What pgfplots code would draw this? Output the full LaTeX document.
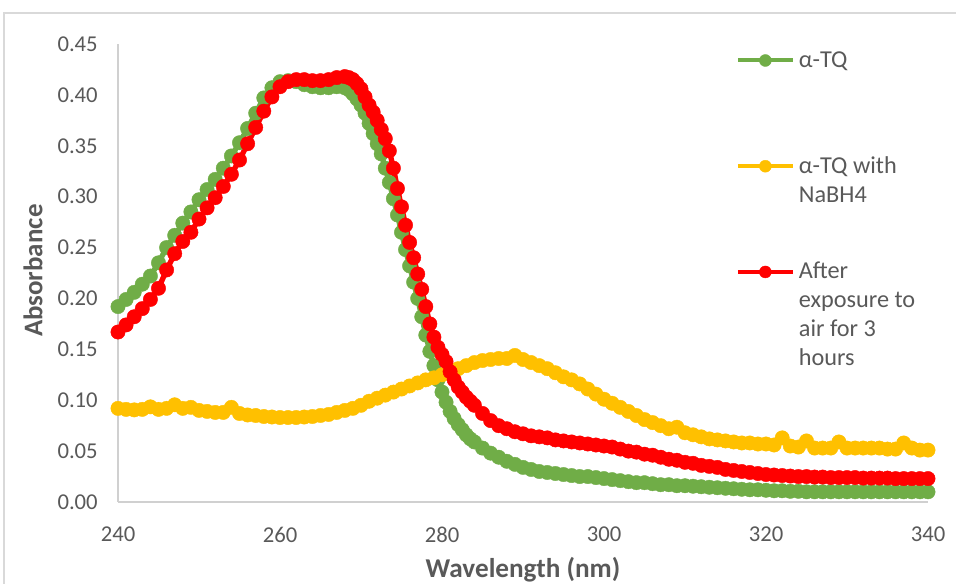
\documentclass[border=0pt]{standalone}
\usepackage{fontspec}
\setmainfont{Carlito}
\usepackage{pgfplots}
\pgfplotsset{compat=1.18}
\definecolor{cgreen}{HTML}{70AD47}
\definecolor{cgold}{HTML}{FFC000}
\definecolor{cred}{HTML}{FF0000}
\definecolor{ctext}{HTML}{595959}
\definecolor{caxis}{HTML}{D0D0D0}
\definecolor{cborder}{HTML}{D9D9D9}
\newcommand{\legent}[1]{\rule{0pt}{77.8pt}\raisebox{33pt}{\smash{\parbox[t]{115pt}{\fontsize{18.2}{21.75}\selectfont #1}}}}

\begin{document}
\begin{tikzpicture}
\path[use as bounding box] (-88.5pt,-61.5pt) rectangle (628.5pt,376.5pt);
\draw[cborder, line width=0.8pt] (-85.5pt,-80pt) -- (-85.5pt,366.75pt) -- (640pt,366.75pt);
\begin{axis}[
  name=ax,
  scale only axis,
  width=607.5pt, height=343.5pt,
  xmin=240, xmax=340, ymin=0, ymax=0.45,
  xtick={240,260,...,340},
  ytick={0,0.05,0.1,0.15,0.2,0.25,0.3,0.35,0.4,0.45},
  axis lines=left,
  x axis line style={-, draw=caxis, line width=1.4pt},
  y axis line style={-, draw=caxis, line width=1.1pt},
  major tick length=0pt,
  /pgf/number format/assume math mode=true,
  ticklabel style={font=\fontsize{17}{20}\selectfont, text=ctext},
  yticklabel={\pgfmathprintnumber[fixed,fixed zerofill,precision=2,assume math mode=true]{\tick}},
  xticklabel={\pgfmathprintnumber[assume math mode=true]{\tick}},
  yticklabel style={inner sep=0pt, xshift=-15pt},
  xticklabel style={inner sep=0pt, yshift=-18.75pt},
  xlabel={Wavelength (nm)},
  ylabel={Absorbance},
  xlabel style={at={(axis description cs:0.5,-0.148)}, anchor=center, font=\bfseries\fontsize{20.4}{23}\selectfont, text=ctext},
  ylabel style={at={(axis description cs:-0.105,0.505)}, anchor=center, font=\bfseries\fontsize{20.2}{23}\selectfont, text=ctext},
  legend cell align=left,
  legend style={at={(axis description cs:0.7625,1.08)}, anchor=north west, draw=none, fill=none, inner sep=0pt, row sep=0pt,
    /tikz/column sep=3pt, nodes={inner sep=0pt, text=ctext}},
  legend image code/.code={\draw[mark repeat=2,mark phase=2,#1, line width=3pt, mark size=4.5pt] plot coordinates {(0pt,0pt) (20.6pt,0pt) (41.25pt,0pt)};},
  every axis plot/.append style={line width=4pt, mark=*, mark size=5.4pt},
  clip=false,
]
\addplot[color=cgreen, mark options={fill=cgreen, draw=cgreen, line width=0.3pt}] table {
240 0.192
241 0.199
242 0.206
243 0.214
244 0.222
245 0.235
246 0.250
247 0.262
248 0.274
249 0.285
250 0.297
251 0.307
252 0.317
253 0.328
254 0.340
255 0.353
256 0.367
257 0.382
258 0.397
259 0.407
260 0.413
261 0.414
262 0.413
263 0.410
264 0.408
265 0.407
266 0.407
267 0.408
268 0.407
268.5 0.405
269 0.401
269.5 0.396
270 0.390
270.5 0.382
271 0.372
271.5 0.362
272 0.352
272.5 0.342
273 0.328
273.5 0.314
274 0.298
274.5 0.282
275 0.265
275.5 0.248
276 0.232
276.5 0.216
277 0.200
277.5 0.182
278 0.164
278.5 0.148
279 0.134
279.5 0.120
280 0.108
280.5 0.098
281 0.089
281.5 0.082
282 0.076
282.5 0.071
283 0.066
283.5 0.062
284 0.059
285 0.053
286 0.048
287 0.044
288 0.040
289 0.037
290 0.034
291 0.032
292 0.030
293 0.029
294 0.028
295 0.027
296 0.026
297 0.025
298 0.025
299 0.024
300 0.023
301 0.022
302 0.021
303 0.020
304 0.019
305 0.019
306 0.018
307 0.017
308 0.017
309 0.016
310 0.016
311 0.0155
312 0.015
313 0.0145
314 0.014
315 0.0135
316 0.013
317 0.0125
318 0.012
319 0.012
320 0.0115
321 0.011
322 0.011
323 0.0105
324 0.0105
325 0.010
326 0.010
327 0.010
328 0.010
329 0.010
330 0.010
331 0.010
332 0.010
333 0.010
334 0.010
335 0.010
336 0.010
337 0.010
338 0.010
339 0.010
340 0.010
};
\addlegendentry{\legent{α-TQ}}
\addplot[color=cgold, mark options={fill=cgold, draw=cgold, line width=0.3pt}] table {
240 0.092
241 0.091
242 0.0905
243 0.091
244 0.0935
245 0.091
246 0.092
247 0.0955
248 0.092
249 0.093
250 0.090
251 0.089
252 0.088
253 0.088
254 0.093
255 0.087
256 0.0855
257 0.085
258 0.084
259 0.0835
260 0.083
261 0.083
262 0.083
263 0.0835
264 0.084
265 0.085
266 0.086
267 0.088
268 0.090
269 0.092
270 0.095
271 0.099
272 0.102
273 0.105
274 0.108
275 0.111
276 0.114
277 0.117
278 0.120
279 0.122
280 0.125
281 0.128
282 0.131
283 0.134
284 0.137
285 0.139
286 0.140
287 0.141
288 0.141
289 0.144
290 0.140
291 0.137
292 0.134
293 0.131
294 0.127
295 0.123
296 0.120
297 0.116
298 0.111
299 0.106
300 0.101
301 0.097
302 0.093
303 0.089
304 0.085
305 0.081
306 0.078
307 0.075
308 0.072
309 0.0735
310 0.068
311 0.066
312 0.064
313 0.062
314 0.061
315 0.060
316 0.059
317 0.058
318 0.058
319 0.057
320 0.057
321 0.056
322 0.063
323 0.055
324 0.054
325 0.060
326 0.053
327 0.053
328 0.053
329 0.059
330 0.053
331 0.053
332 0.053
333 0.053
334 0.053
335 0.052
336 0.052
337 0.058
338 0.053
339 0.051
340 0.051
};
\addlegendentry{\legent{α-TQ with\\NaBH4}}
\addplot[color=cred, mark options={fill=cred, draw=cred, line width=0.3pt}] table {
240 0.167
241 0.174
242 0.182
243 0.190
244 0.199
245 0.210
246 0.228
247 0.244
248 0.256
249 0.265
250 0.278
251 0.289
252 0.299
253 0.310
254 0.322
255 0.336
256 0.352
257 0.368
258 0.384
259 0.398
260 0.408
261 0.413
262 0.415
263 0.415
264 0.414
265 0.414
266 0.415
267 0.417
268 0.418
268.5 0.417
269 0.415
269.5 0.411
270 0.406
270.5 0.398
271 0.390
271.5 0.383
272 0.375
272.5 0.366
273 0.357
273.5 0.345
274 0.328
274.5 0.308
275 0.290
275.5 0.272
276 0.255
276.5 0.240
277 0.224
277.5 0.209
278 0.192
278.5 0.175
279 0.162
279.5 0.152
280 0.145
280.5 0.138
281 0.128
281.5 0.120
282 0.113
282.5 0.108
283 0.103
283.5 0.099
284 0.095
285 0.087
286 0.080
287 0.075
288 0.072
289 0.069
290 0.067
291 0.065
292 0.064
293 0.063
294 0.061
295 0.060
296 0.059
297 0.058
298 0.057
299 0.056
300 0.055
301 0.054
302 0.052
303 0.050
304 0.049
305 0.047
306 0.046
307 0.044
308 0.042
309 0.041
310 0.039
311 0.038
312 0.036
313 0.035
314 0.034
315 0.032
316 0.031
317 0.030
318 0.029
319 0.028
320 0.027
321 0.0265
322 0.026
323 0.0255
324 0.025
325 0.025
326 0.0245
327 0.0245
328 0.024
329 0.024
330 0.024
331 0.024
332 0.0235
333 0.0235
334 0.0235
335 0.0235
336 0.023
337 0.023
338 0.023
339 0.023
340 0.023
};
\addlegendentry{\legent{After\\exposure to\\air for 3\\hours}}
\end{axis}
\end{tikzpicture}
\end{document}
